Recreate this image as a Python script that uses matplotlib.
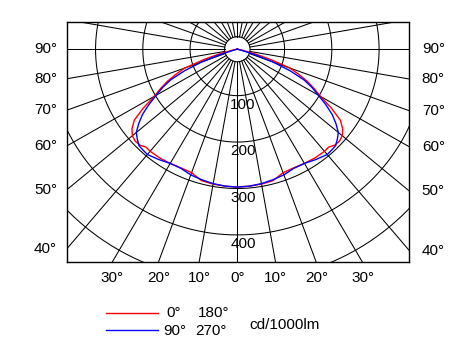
import numpy as np
import matplotlib.pyplot as plt

plt.rcParams['font.family'] = ['Liberation Sans', 'DejaVu Sans']

# 配光数据 cd/1000lm，γ 角 0°~90°（左右对称）
gamma = [0, 5, 10, 15, 20, 25, 30, 35, 40, 42.5, 45, 47.5, 50, 52.5, 55, 57.5,
         60, 62.5, 65, 67.5, 70, 72.5, 75, 80, 85, 90]
c0_180 = [297, 296, 295, 293, 283, 282, 284, 286, 287, 286, 292, 293, 290, 281, 266, 236,
          203, 183, 163, 140, 118, 75, 40, 8, 2, 0]
c90_270 = [297, 296, 294, 291, 288, 283, 284, 290, 296, 295, 294, 287, 279, 263, 245, 222,
           198, 178, 155, 120, 80, 40, 10, 2, 0, 0]

rings = [100, 200, 300, 400, 500]
ring_labels = ['100', '200', '300', '400']
side_angles = [90, 80, 70, 60, 50, 40]
bottom_angles = [30, 20, 10, 0]

fig = plt.figure(figsize=(4.63, 3.52), dpi=100)
ax = fig.add_axes([0.1441, 0.2548, 0.740, 0.6818])

xmin, xmax = -361, 364
ymin, ymax = -459, 58
hole = 27
lw = 0.75

# 网格圆环
t = np.linspace(0, 2 * np.pi, 721)
for r in rings:
    ax.plot(r * np.sin(t), r * np.cos(t), color='black', lw=lw)
ax.plot(hole * np.sin(t), hole * np.cos(t), color='black', lw=lw)

# 放射线，每 10°
for a in range(0, 360, 10):
    th = np.radians(a)
    ax.plot([hole * np.sin(th), 2000 * np.sin(th)],
            [-hole * np.cos(th), -2000 * np.cos(th)], color='black', lw=lw)

# 配光曲线（镜像到左侧）
g = np.radians(gamma)
for vals, col in [(c0_180, 'red'), (c90_270, 'blue')]:
    v = np.array(vals, dtype=float)
    x = v * np.sin(g)
    y = -v * np.cos(g)
    xs = np.concatenate([-x[::-1], x[1:]])
    ys = np.concatenate([y[::-1], y[1:]])
    ax.plot(xs, ys, color=col, lw=1.0, zorder=3)

ax.set_xlim(xmin, xmax)
ax.set_ylim(ymin, ymax)
ax.set_xticks([])
ax.set_yticks([])
for s in ax.spines.values():
    s.set_linewidth(1.0)

# 圆环数值
for r, lab in zip(rings, ring_labels):
    ax.text(12, -(r + 20), lab, ha='center', va='center', fontsize=11)

# 两侧角度标注
for a in side_angles:
    th = np.radians(a)
    yl = -(-xmin) / np.tan(th) if a != 90 else 0
    yr = -xmax / np.tan(th) if a != 90 else 0
    ax.annotate(f'{a}°', xy=(xmin, yl), xytext=(-7, 0), textcoords='offset points',
                ha='right', va='center', fontsize=11, annotation_clip=False)
    ax.annotate(f'{a}°', xy=(xmax, yr), xytext=(9, 0), textcoords='offset points',
                ha='left', va='center', fontsize=11, annotation_clip=False)

# 底部角度标注
for a in bottom_angles:
    th = np.radians(a)
    xb = -ymin * np.tan(th)
    for sgn in ([1] if a == 0 else [-1, 1]):
        ax.annotate(f'{a}°', xy=(sgn * xb, ymin), xytext=(0, -11), textcoords='offset points',
                    ha='center', va='center', fontsize=11, annotation_clip=False)

# 图例（像素坐标）
lg = fig.add_axes([0, 0, 1, 1])
lg.set_xlim(0, 463)
lg.set_ylim(352, 0)
lg.axis('off')
lg.plot([106, 158], [313, 313], color='red', lw=1.0)
lg.plot([106, 158], [330, 330], color='blue', lw=1.0)
lg.text(166, 313, '0°', ha='left', va='center', fontsize=11)
lg.text(198, 313, '180°', ha='left', va='center', fontsize=11)
lg.text(163, 331, '90°', ha='left', va='center', fontsize=11)
lg.text(195, 331, '270°', ha='left', va='center', fontsize=11)
lg.text(249, 325, 'cd/1000lm', ha='left', va='center', fontsize=11)

fig.savefig('out.png', dpi=100, facecolor='white')
